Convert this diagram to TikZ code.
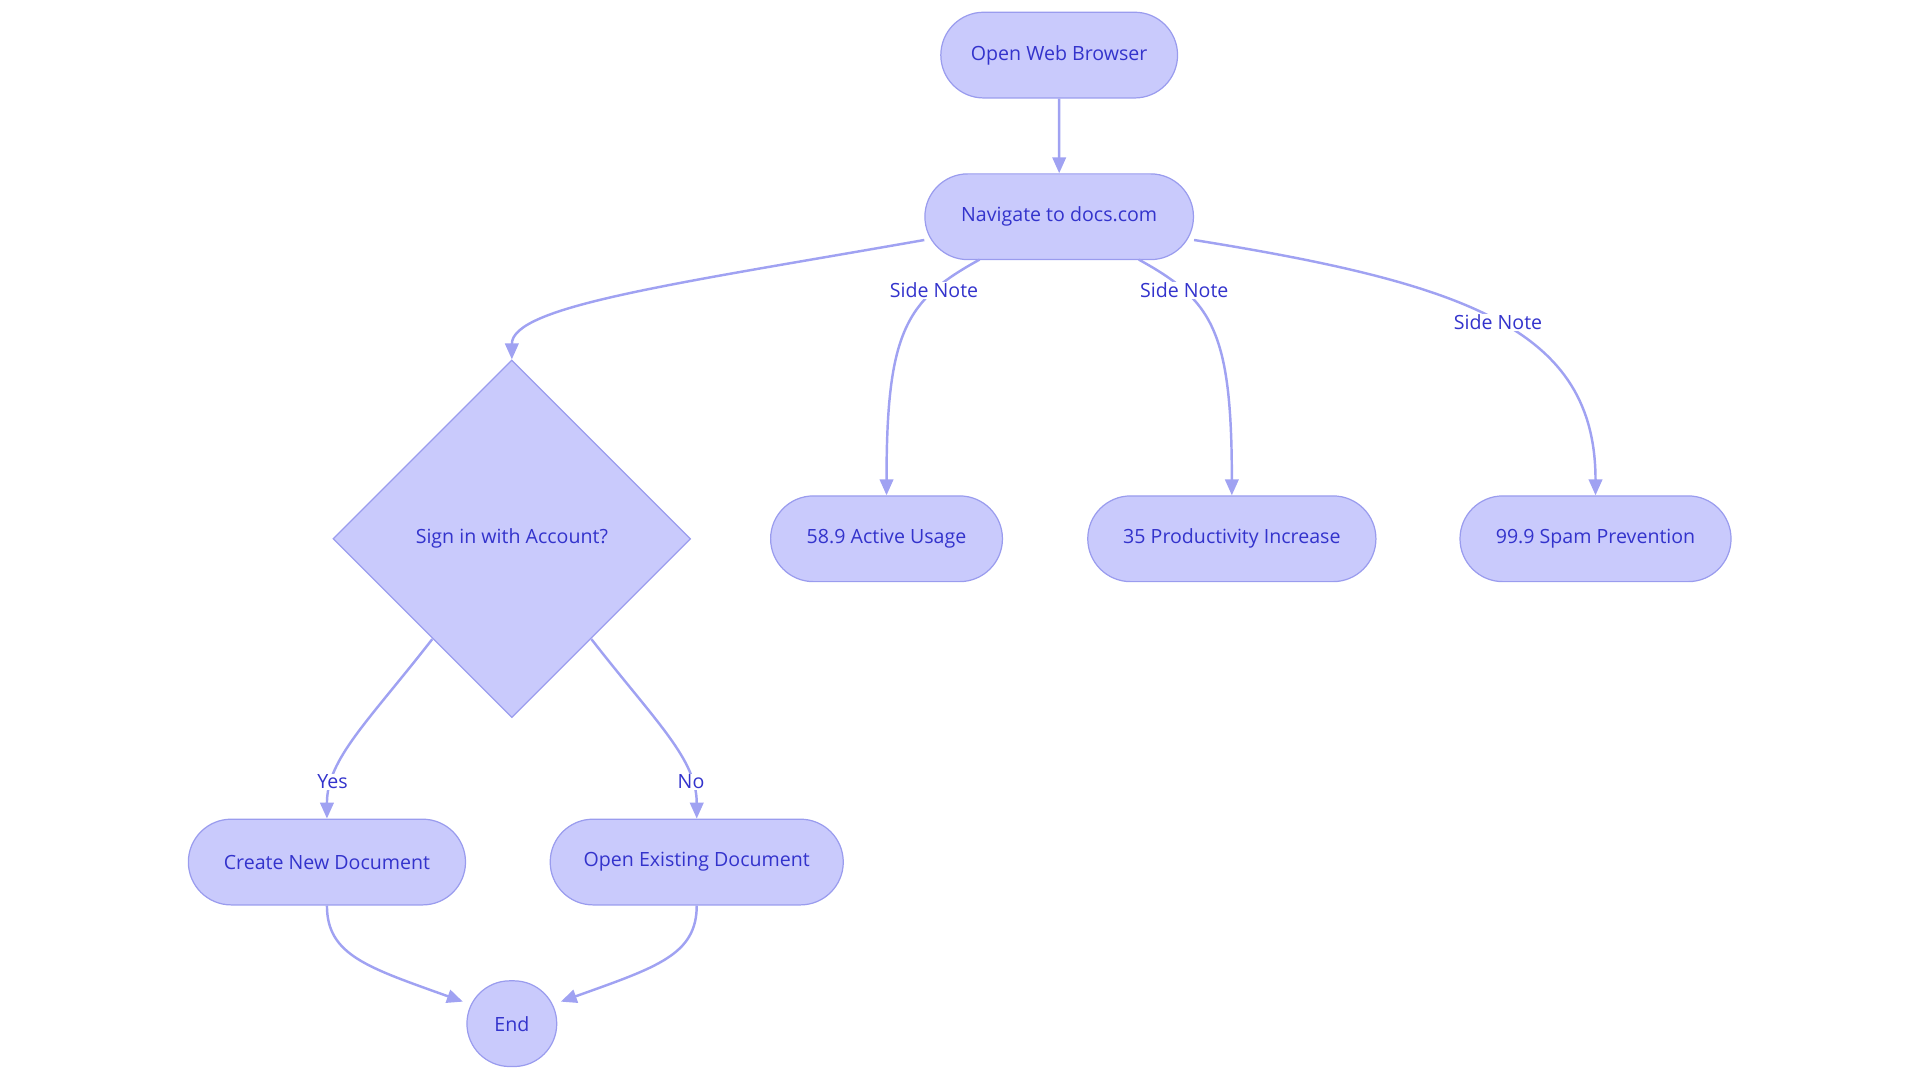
\documentclass[tikz,border=0pt]{standalone}
\usepackage{fontspec}
\setmainfont{Open Sans}
\usetikzlibrary{shapes.geometric,arrows.meta}
\definecolor{fillc}{HTML}{C9CAFC}
\definecolor{bord}{HTML}{9A9CEE}
\definecolor{txt}{HTML}{3333CC}
\definecolor{edge}{HTML}{A0A2F2}
\begin{document}
\begin{tikzpicture}[x=1pt,y=-1pt,
  box/.style={rounded rectangle, draw=bord, fill=fillc, text=txt, minimum height=70pt, font=\fontsize{16}{18}\selectfont, line width=1pt},
  lab/.style={fill=white, text=txt, font=\fontsize{16}{18}\selectfont, inner sep=1pt},
  ed/.style={draw=edge, line width=2pt, -{Triangle[length=13pt,width=11pt]}}]
\usetikzlibrary{shapes.misc}
\useasboundingbox (0,0) rectangle (1568,885);
\node[box, minimum width=200pt] (a) at (865,45) {Open Web Browser};
\node[box, minimum width=226pt] (b) at (865,177) {Navigate to docs.com};
\node[diamond, draw=bord, fill=fillc, text=txt, minimum width=292pt, minimum height=292pt, inner sep=0pt, font=\fontsize{16}{18}\selectfont, line width=1pt] (c) at (418,440) {Sign in with Account?};
\node[box, minimum width=196pt] (d) at (724,440) {58.9 Active Usage};
\node[box, minimum width=242pt] (e) at (1006,440) {35 Productivity Increase};
\node[box, minimum width=228pt] (f) at (1303,440) {99.9 Spam Prevention};
\node[box, minimum width=233pt] (g) at (267,704) {Create New Document};
\node[box, minimum width=246pt] (h) at (569,704) {Open Existing Document};
\node[box, minimum width=80pt] (i) at (418,836) {End};
\draw[ed] (a) -- (b);
\draw[ed] (b.west |- 0,196) .. controls (550,232) and (418,250) .. (c.north);
\draw[ed] (800,212) .. controls (740,245) and (724,270) .. node[lab,pos=0.25]{Side Note} (d.north);
\draw[ed] (930,212) .. controls (990,245) and (1006,270) .. node[lab,pos=0.25]{Side Note} (e.north);
\draw[ed] (b.east |- 0,196) .. controls (1200,232) and (1303,270) .. node[lab,pos=0.5]{Side Note} (f.north);
\draw[ed] (353,522) .. controls (300,590) and (267,620) .. node[lab,pos=0.78]{Yes} (g.north);
\draw[ed] (483,522) .. controls (536,590) and (569,620) .. node[lab,pos=0.78]{No} (h.north);
\draw[ed] (g.south) .. controls (267,780) and (300,790) .. (378,818);
\draw[ed] (h.south) .. controls (569,780) and (536,790) .. (458,818);
\end{tikzpicture}
\end{document}
